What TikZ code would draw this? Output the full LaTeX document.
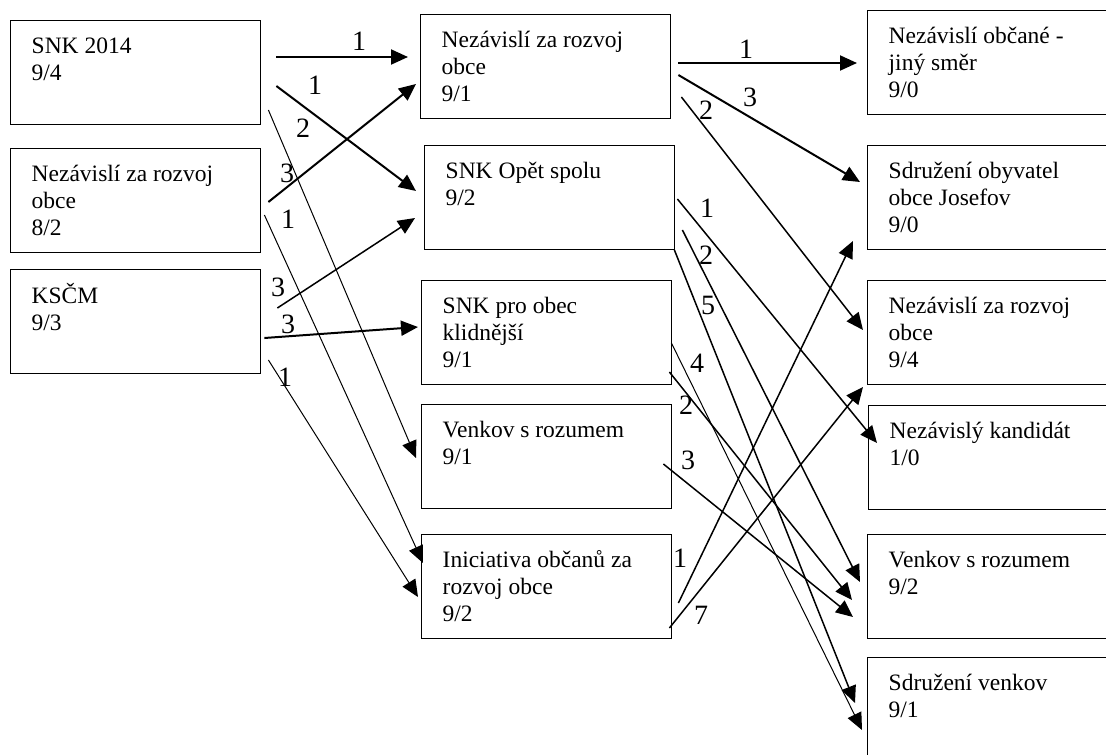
\documentclass[tikz,border=0pt]{standalone}
\usepackage{fontspec}
\setmainfont{Liberation Serif}
\usetikzlibrary{arrows.meta}

\newcommand{\boxtext}[1]{\parbox[t][75.8pt][t]{208pt}{\strut #1}}

\begin{document}
\begin{tikzpicture}[x=1pt,y=-1pt,
  box/.style={draw,line width=1.4pt,anchor=north west,inner xsep=21pt,inner ysep=14pt,
    font=\fontsize{23.5}{27}\selectfont},
  num/.style={inner sep=0pt,font=\fontsize{28}{30}\selectfont},
  arr/.style={-{Triangle[length=17pt,width=15pt]}},
  thk/.style={arr,line width=2pt},
  mid/.style={arr,line width=1.5pt},
  thn/.style={arr,line width=1pt}]
  \useasboundingbox (0,0) rectangle (1106,755);
  \fill[white] (0,0) rectangle (1106,755);
  \clip (0,0) rectangle (1106,755);

  \node[box] (snk) at (10,20) {\boxtext{SNK 2014\\9/4}};
  \node[box] (nez82) at (10,148) {\boxtext{Nezávislí za rozvoj\\obce\\8/2}};
  \node[box] (kscm) at (10,269) {\boxtext{KSČM\\9/3}};

  \node[box] (nez91) at (420,14) {\boxtext{Nezávislí za rozvoj\\obce\\9/1}};
  \node[box] (opet) at (424,145) {\boxtext{SNK Opět spolu\\9/2}};
  \node[box] (klid) at (421,280) {\boxtext{SNK pro obec\\klidnější\\9/1}};
  \node[box] (venk91) at (421,404) {\boxtext{Venkov s rozumem\\9/1}};
  \node[box] (inic) at (421,534) {\boxtext{Iniciativa občanů za\\rozvoj obce\\9/2}};

  \node[box] (obc) at (867,10) {\boxtext{Nezávislí občané -\\jiný směr\\9/0}};
  \node[box] (jos) at (867,145) {\boxtext{Sdružení obyvatel\\obce Josefov\\9/0}};
  \node[box] (nez94) at (867,280) {\boxtext{Nezávislí za rozvoj\\obce\\9/4}};
  \node[box] (kand) at (868,405) {\boxtext{Nezávislý kandidát\\1/0}};
  \node[box] (venk92) at (867,534) {\boxtext{Venkov s rozumem\\9/2}};
  \node[box] (sdruz) at (867,657) {\boxtext{Sdružení venkov\\9/1}};

  \draw[thk] ([shift={(15,37)}]snk.north east) -- ([shift={(-12,43)}]nez91.north west);
  \draw[thk] ([shift={(15,66)}]snk.north east) -- ([shift={(-8,46)}]opet.north west);
  \draw[thn] ([shift={(7,90)}]snk.north east) -- ([shift={(-5,54)}]venk91.north west);
  \draw[thk] ([shift={(7,54)}]nez82.north east) -- ([shift={(-4,70)}]nez91.north west);
  \draw[thn] ([shift={(3,67)}]nez82.north east) -- ([shift={(2,29)}]inic.north west);
  \draw[mid] ([shift={(16,39)}]kscm.north east) -- ([shift={(-9,73)}]opet.north west);
  \draw[thk] ([shift={(3,69)}]kscm.north east) -- ([shift={(-3,47)}]klid.north west);
  \draw[thn] ([shift={(7,91)}]kscm.north east) -- ([shift={(-3,63)}]inic.north west);

  \draw[thk] ([shift={(7,49)}]nez91.north east) -- ([shift={(-10,53)}]obc.north west);
  \draw[thk] ([shift={(7,61)}]nez91.north east) -- ([shift={(-7,37)}]jos.north west);
  \draw[mid] ([shift={(10,83)}]nez91.north east) -- ([shift={(-4,50)}]nez94.north west);
  \draw[mid] ([shift={(2,54)}]opet.north east) -- ([shift={(9,38)}]kand.north west);
  \draw[mid] ([shift={(7,85)}]opet.north east) -- ([shift={(-7,48)}]venk92.north west);
  \draw[mid] ([shift={(-1,105)}]opet.north east) -- ([shift={(-12,46)}]sdruz.north west);
  \draw[thn] ([shift={(-1,63)}]klid.north east) -- ([shift={(-5,73)}]sdruz.north west);
  \draw[mid] ([shift={(-3,92)}]klid.north east) -- ([shift={(-15,66)}]venk92.north west);
  \draw[mid] ([shift={(-9,60)}]venk91.north east) -- ([shift={(-14,83)}]venk92.north west);
  \draw[mid] ([shift={(6,69)}]inic.north east) -- ([shift={(-14,96)}]jos.north west);
  \draw[mid] ([shift={(-3,94)}]inic.north east) -- ([shift={(-4,107)}]nez94.north west);

  \foreach \t/\x/\y [count=\i] in {1/359/41, 1/315/85, 2/303/128, 3/287/173, 1/288/219,
      3/278/287, 3/288/324, 1/285/377, 1/746/49, 3/750/97, 2/706/110, 1/707/208,
      2/706/255, 5/708/305, 4/697/363, 2/686/405, 3/688/460, 1/680/558, 7/701/615}
    \node[num] (lab\i) at (\x,\y) {\t};
\end{tikzpicture}
\end{document}
